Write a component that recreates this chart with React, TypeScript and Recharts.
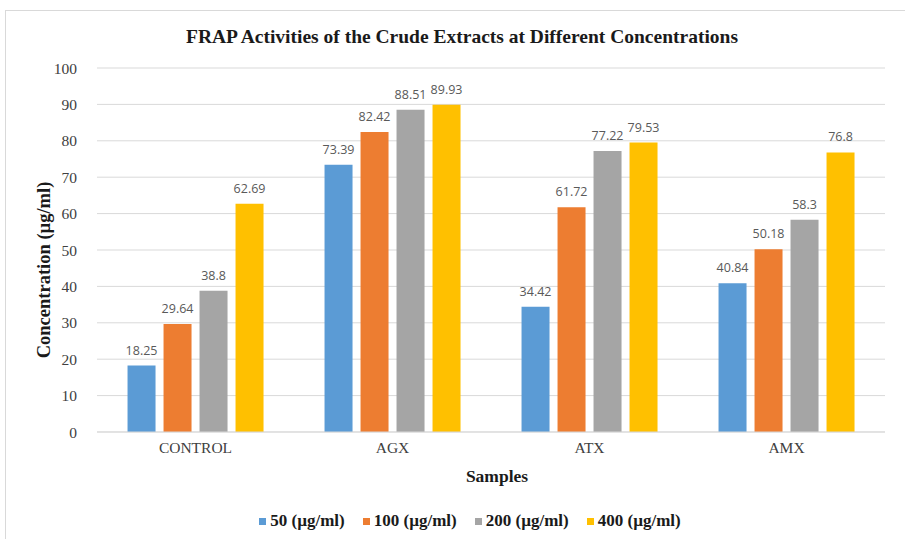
import React from "react";
import { Bar, BarChart, CartesianGrid, LabelList, XAxis, YAxis } from "recharts";

const samples = ["CONTROL", "AGX", "ATX", "AMX"];
const c50 = [18.25, 73.39, 34.42, 40.84];
const c100 = [29.64, 82.42, 61.72, 50.18];
const c200 = [38.8, 88.51, 77.22, 58.3];
const c400 = [62.69, 89.93, 79.53, 76.8];
const yTicks = [0, 10, 20, 30, 40, 50, 60, 70, 80, 90, 100];

const series = [
  { key: "c50", name: "50 (µg/ml)", color: "#5B9BD5" },
  { key: "c100", name: "100 (µg/ml)", color: "#ED7D31" },
  { key: "c200", name: "200 (µg/ml)", color: "#A5A5A5" },
  { key: "c400", name: "400 (µg/ml)", color: "#FFC000" },
];

const data = samples.map((name, i) => ({
  name,
  c50: c50[i],
  c100: c100[i],
  c200: c200[i],
  c400: c400[i],
}));

const serif = "'Liberation Serif', 'Times New Roman', serif";

export default function App() {
  return (
    <div style={{ position: "absolute", left: 0, top: 0, width: 905, height: 539, background: "#fff", overflow: "hidden" }}>
      <div style={{ position: "absolute", left: 5, top: 10, width: 930, height: 560, border: "1px solid #d9d9d9", boxSizing: "border-box" }} />
      <div style={{ position: "absolute", left: 0, top: 25, width: 924, textAlign: "center", fontFamily: serif, fontWeight: "bold", fontSize: 19.5, lineHeight: "24px", color: "#1a1a1a" }}>
        FRAP Activities of the Crude Extracts at Different Concentrations
      </div>
      <div style={{ position: "absolute", left: 44, top: 270, transform: "translate(-50%, -50%) rotate(-90deg)", whiteSpace: "nowrap", fontFamily: serif, fontWeight: "bold", fontSize: 18.5, color: "#1a1a1a" }}>
        Concentration (µg/ml)
      </div>
      <div style={{ position: "absolute", left: 0, top: 465, width: 994, textAlign: "center", fontFamily: serif, fontWeight: "bold", fontSize: 17.5, lineHeight: "22px", color: "#1a1a1a" }}>
        Samples
      </div>
      <div style={{ position: "absolute", left: 0, top: 510, width: 940, display: "flex", justifyContent: "center", gap: 18, fontFamily: serif, fontWeight: "bold", fontSize: 17, lineHeight: "22px", color: "#1a1a1a" }}>
        {series.map((s) => (
          <div key={s.key} style={{ display: "flex", alignItems: "center", gap: 4 }}>
            <span style={{ width: 7, height: 7, background: s.color, display: "inline-block" }} />
            <span>{s.name}</span>
          </div>
        ))}
      </div>
      <BarChart
        width={905}
        height={539}
        data={data}
        margin={{ top: 68, right: 20, left: 0, bottom: 77 }}
        barCategoryGap="15.5%"
        barGap={8}
        style={{ position: "absolute", left: 0, top: 0 }}
      >
        <CartesianGrid vertical={false} stroke="#d9d9d9" />
        <XAxis
          dataKey="name"
          axisLine={{ stroke: "#d9d9d9" }}
          tickLine={false}
          tick={{ fontFamily: serif, fontSize: 15.5, fill: "#404040" }}
          tickMargin={4}
        />
        <YAxis
          width={97}
          domain={[0, 100]}
          ticks={yTicks}
          axisLine={false}
          tickLine={false}
          tickMargin={14}
          tick={{ fontFamily: serif, fontSize: 15.5, fill: "#404040" }}
        />
        {series.map((s) => (
          <Bar key={s.key} dataKey={s.key} name={s.name} fill={s.color} isAnimationActive={false}>
            <LabelList dataKey={s.key} position="top" offset={11} style={{ fontFamily: "'Open Sans', sans-serif", fontSize: 12.5, fill: "#595959" }} />
          </Bar>
        ))}
      </BarChart>
    </div>
  );
}
